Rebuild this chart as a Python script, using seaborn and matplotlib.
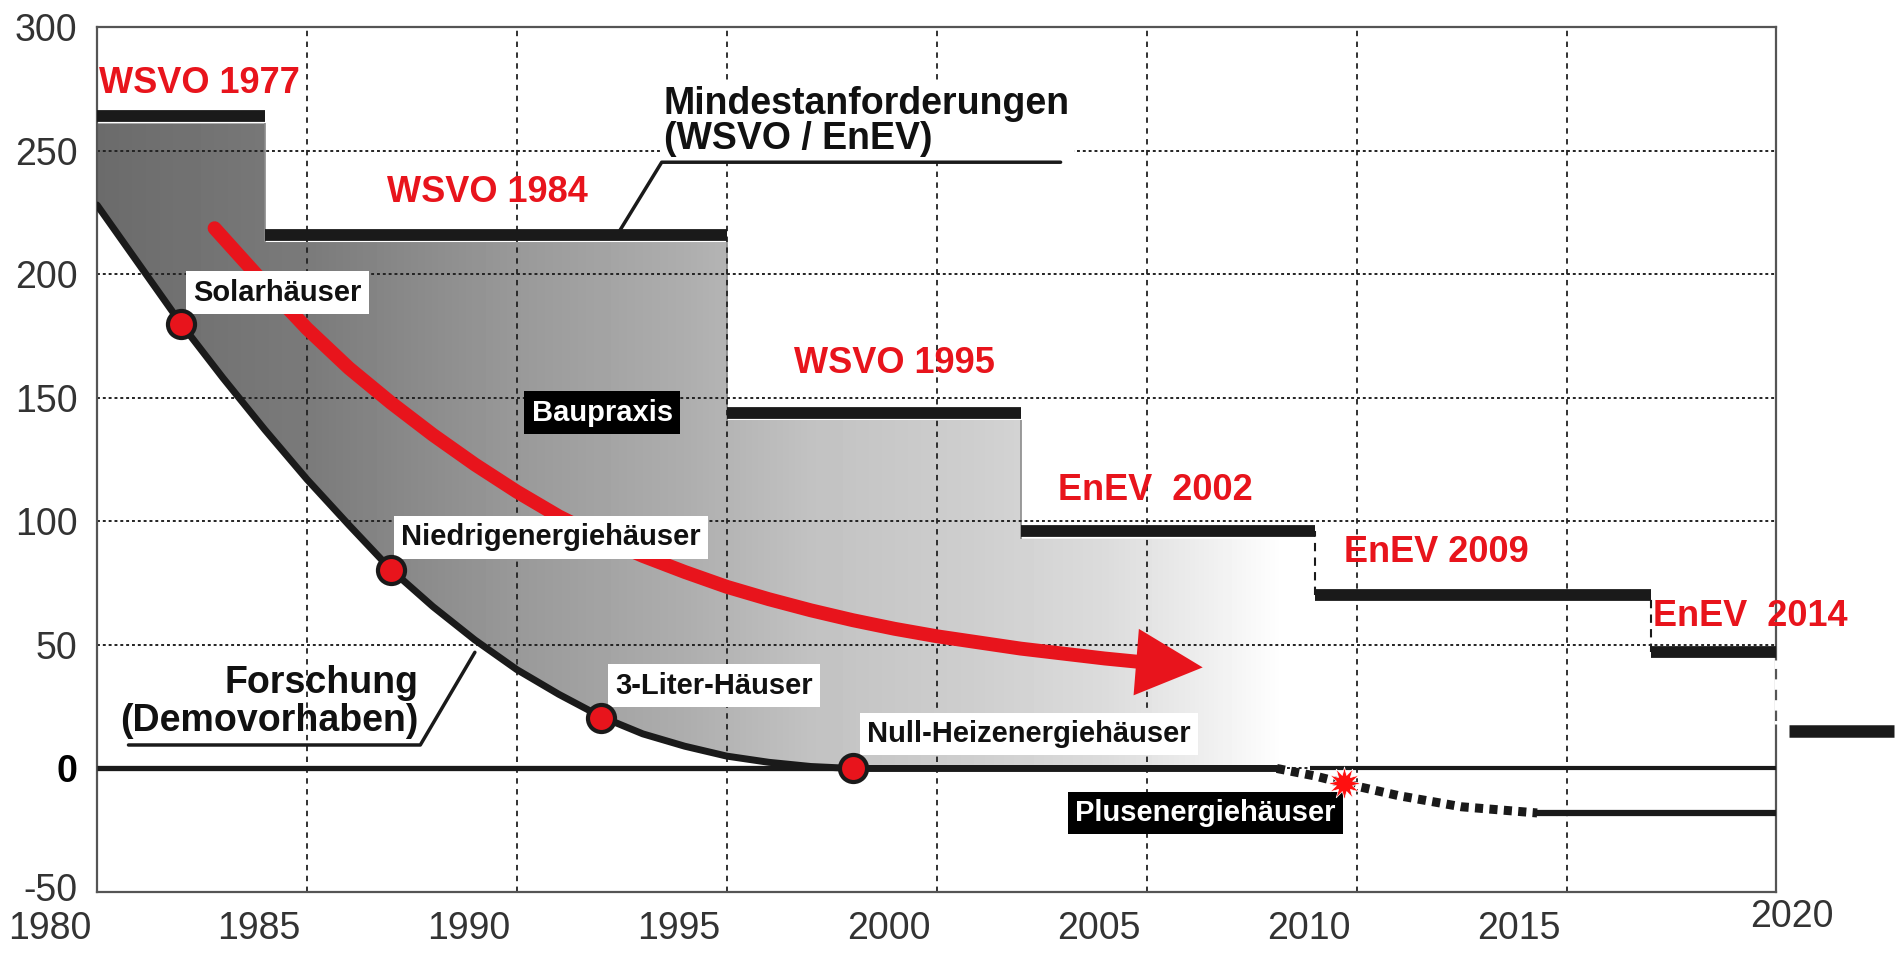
import numpy as np
import pandas as pd
import seaborn as sns
import matplotlib.pyplot as plt
from matplotlib.patches import Polygon
from matplotlib.transforms import ScaledTranslation

sns.set_theme(style='white')
plt.rcParams['font.family'] = ['Liberation Sans', 'DejaVu Sans']

#%% data
# minimum requirements (WSVO / EnEV), kWh/m2a
std_names = ['WSVO 1977', 'WSVO 1984', 'WSVO 1995', 'EnEV  2002', 'EnEV 2009', 'EnEV  2014']
std_start = [1980, 1984, 1995, 2002, 2009, 2017]
std_end = [1984, 1995, 2002, 2009, 2017, 2020]
std_level = [264, 216, 144, 96, 70, 47]
next_start, next_end, next_level = 2020.3, 2022.8, 15

# research / demo projects curve
res_year = [1980, 1981, 1982, 1983, 1984, 1985, 1986, 1987, 1988, 1989,
            1990, 1991, 1992, 1993, 1994, 1995, 1996, 1997, 1998, 2008.1]
res_val = [228, 204, 180, 158, 137, 117, 98.5, 80.5, 65.5, 52,
           40, 30, 21, 14, 9, 5, 2.5, 0.8, 0, 0]

house_names = ['Solarhäuser', 'Niedrigenergiehäuser', '3-Liter-Häuser', 'Null-Heizenergiehäuser']
house_year = [1982, 1987, 1992, 1998]
house_val = [180, 80.5, 20.5, 0]

# plus energy houses
plus_year = [2008.1, 2009.0, 2009.7, 2011.0, 2012.5, 2014.3]
plus_val = [0, -3, -6, -11, -15.5, -18]
plus_flat_year = [2014.3, 2020]
plus_flat_val = [-18, -18]
star_year, star_val = 2009.7, -6

# building practice trend arrow
trend_year = [1982.8, 1984, 1985, 1986, 1987, 1988, 1989, 1990, 1991, 1992, 1993,
              1994, 1995, 1996, 1997, 1998, 1999, 2000, 2001, 2002, 2003, 2004, 2005.2]
trend_val = [218.6, 196, 178, 162, 148, 135, 123, 112, 102, 93.5, 86,
             79.5, 73.5, 68.5, 64, 60, 56.5, 53.5, 51, 48.5, 46.5, 44.5, 42.5]
trend_tip = (2006.4, 40.8)

# grey shading of building practice (fades out)
grad_year = [1980, 1985, 1990, 1994, 1997, 2001, 2004, 2006, 2008.3]
grad_gray = [0.42, 0.48, 0.60, 0.68, 0.76, 0.81, 0.86, 0.92, 1.0]

xticks = [1980, 1985, 1990, 1995, 2000, 2005, 2010, 2015, 2020]
yticks = [-50, 0, 50, 100, 150, 200, 250, 300]

red = '#e8141c'

#%% plot
fig, ax = plt.subplots(figsize=(19.02, 9.65), dpi=100)
fig.subplots_adjust(left=0.051, right=0.934, bottom=0.0756, top=0.972)

# shaded area between research curve and requirements
top = []
for s, e, l in zip(std_start[:4], std_end[:4], std_level[:4]):
    top += [(s, l - 3), (e, l - 3)]
bottom = list(zip(res_year, res_val))[::-1]
poly = Polygon(top + [(2009, 0)] + bottom, closed=True, fc='none', ec='none',
               transform=ax.transData)
ax.add_patch(poly)
xs = np.linspace(1980, 2009, 400)
shade = np.tile(np.interp(xs, grad_year, grad_gray), (2, 1))
im = ax.imshow(shade, extent=[1980, 2009, 0, 270], aspect='auto', cmap='gray',
               vmin=0, vmax=1, origin='lower', interpolation='bilinear', zorder=0.3)
im.set_clip_path(poly)
ax.vlines(std_start[1:4], [l - 3 for l in std_level[1:4]], [l - 3 for l in std_level[:3]],
          color='#8a8a8a', lw=1.2, zorder=0.4)

# grid
ax.set_axisbelow(True)
ax.xaxis.grid(True, linestyle=(0, (3, 3)), lw=1.3, color='#222')
ax.yaxis.grid(True, linestyle=(0, (1.5, 1.5)), lw=1.4, color='#222')

# zero lines
ax.hlines(0, 1980, 2008.1, color='k', lw=3.8, zorder=3)
ax.hlines(0, 2008.9, 2020, color='k', lw=3, zorder=3)

# requirement steps
ax.hlines(std_level, std_start, std_end, color='k', lw=8.5, zorder=3)
ax.hlines(next_level, next_start, next_end, color='k', lw=9, zorder=3, clip_on=False)
ax.vlines([2009, 2017], std_level[4:], std_level[3:5], color='k', lw=1.5,
          linestyles=(0, (4, 3)), zorder=3)
ax.vlines(2020, next_level + 3, std_level[5] - 3, color='white', lw=2.5,
          linestyles=(2, (3, 3)), zorder=5, clip_on=False)

# trend arrow
sns.lineplot(x=trend_year, y=trend_val, ax=ax, color=red, linewidth=10, sort=False,
             estimator=None, zorder=3.5)
ax.annotate('', xy=trend_tip, xytext=(trend_year[-1] - 0.2, trend_val[-1] + 0.2),
            arrowprops=dict(arrowstyle='-|>,head_length=1.6,head_width=0.8',
                            color=red, lw=0, mutation_scale=30), zorder=3.5)

# research curve
sns.lineplot(x=res_year, y=res_val, ax=ax, color='k', linewidth=5, sort=False,
             estimator=None, zorder=4)
ax.plot(plus_year, plus_val, color='k', lw=6.5, ls=(0, (0.9, 0.7)),
        dash_capstyle='butt', zorder=4)
sns.lineplot(x=plus_flat_year, y=plus_flat_val, ax=ax, color='k', linewidth=4.5,
             estimator=None, zorder=4)
sns.scatterplot(x=house_year, y=house_val, ax=ax, s=380, color='#e8141c',
                edgecolor='k', linewidth=3, zorder=6, clip_on=False)
ax.plot(star_year, star_val, marker=(12, 1, 0), ms=24, color='#ff1010', mec='white',
        mew=0.5, zorder=6)

#%% labels
std_label_x = [1980.05, 1986.9, 1996.6, 2002.9, 2009.7, 2017.05]
std_label_y = [277, 233, 164, 112.6, 87.5, 61.5]
for name, lx, ly in zip(std_names, std_label_x, std_label_y):
    ax.text(lx, ly, name, color=red, fontsize=26, fontweight='bold',
            va='center', ha='left', zorder=5)

box_white = dict(boxstyle='square,pad=0.25', fc='white', ec='none')
box_black = dict(boxstyle='square,pad=0.25', fc='black', ec='none')
house_label_x = [1982.3, 1987.25, 1992.35, 1998.35]
house_label_y = [192.5, 93.5, 33.5, 14]
for name, lx, ly in zip(house_names, house_label_x, house_label_y):
    ax.text(lx, ly, name, fontsize=21, fontweight='bold', color='#111',
            va='center', ha='left', bbox=box_white, zorder=5)
ax.text(2003.3, -18, 'Plusenergiehäuser', fontsize=21, fontweight='bold',
        color='white', va='center', ha='left', bbox=box_black, zorder=5)
ax.text(1990.35, 144, 'Baupraxis', fontsize=21, fontweight='bold',
        color='white', va='center', ha='left', bbox=box_black, zorder=5)

ax.text(1993.5, 247.5, 'Mindestanforderungen\n(WSVO / EnEV)', fontsize=27,
        fontweight='bold', color='#111', ha='left', va='bottom', linespacing=0.95,
        bbox=dict(boxstyle='square,pad=0.1', fc='white', ec='none'), zorder=5)
ax.plot([1992.45, 1993.45, 2002.95], [217.6, 245.3, 245.3], color='k', lw=2.5, zorder=5)

ax.text(1987.65, 12, 'Forschung\n(Demovorhaben)', fontsize=27, fontweight='bold',
        color='#111', ha='right', va='bottom', multialignment='right',
        linespacing=1.05, zorder=5)
ax.plot([1980.75, 1987.7, 1989.0], [9.5, 9.5, 47], color='k', lw=2.5, zorder=5)

#%% axes
ax.set(xlim=(1980, 2020), ylim=(-50, 300), xticks=xticks, yticks=yticks,
       xlabel='', ylabel='')
ax.set_xticklabels([str(t) for t in xticks])
ax.set_yticklabels([str(t) for t in yticks])
ax.tick_params(length=0, labelsize=27, colors='#333')
ax.tick_params(axis='y', pad=14)
ax.tick_params(axis='x', pad=14)
for lab in ax.get_xticklabels()[:-1]:
    lab.set_ha('right')
    lab.set_transform(lab.get_transform() + ScaledTranslation(-0.06, 0, fig.dpi_scale_trans))
ax.get_xticklabels()[-1].set_transform(
    ax.get_xticklabels()[-1].get_transform() + ScaledTranslation(0.15, 0.12, fig.dpi_scale_trans))
low_lab = ax.get_yticklabels()[0]
low_lab.set_transform(low_lab.get_transform() + ScaledTranslation(0, 0.05, fig.dpi_scale_trans))
zero_lab = ax.get_yticklabels()[1]
zero_lab.set_fontweight('bold')
zero_lab.set_color('#000')
for sp in ax.spines.values():
    sp.set_visible(True)
    sp.set_color('#555')
    sp.set_linewidth(1.6)

fig.savefig('out.png', dpi=100, facecolor='white')
